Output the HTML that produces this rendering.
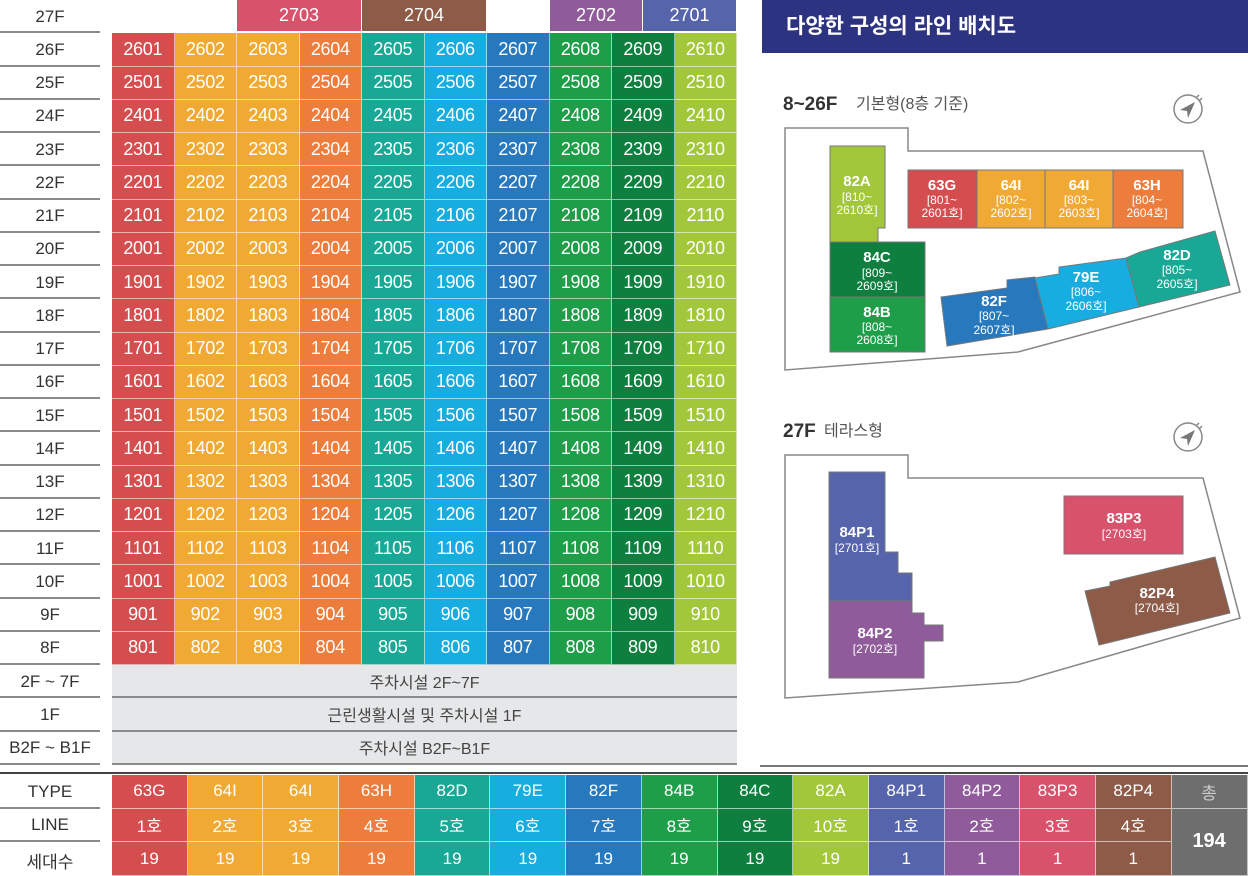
<!DOCTYPE html>
<html><head><meta charset="utf-8">
<style>
*{margin:0;padding:0;box-sizing:border-box}
body{width:1248px;height:876px;background:#fff;position:relative;overflow:hidden;font-family:"Liberation Sans","Noto Sans CJK KR",sans-serif}
.g{position:absolute;left:0;top:0;display:grid;grid-template-columns:112px repeat(10,62.5px);grid-template-rows:repeat(23,33.26px)}
.l{width:100px;border-bottom:2px solid #8a8a8a;color:#333;font-size:17px;display:flex;align-items:center;justify-content:center;padding-top:2px}
.g i{font-style:normal;color:#fff;font-size:18px;display:flex;align-items:center;justify-content:center;border-right:1px solid rgba(255,255,255,.55);border-bottom:1px solid rgba(255,255,255,.55);letter-spacing:-0.3px}
.c1{background:#d44d4f}.c2,.c3{background:#f0aa34}.c4{background:#ec7d3c}.c5{background:#19a896}.c6{background:#18ade0}.c7{background:#2778bd}.c8{background:#1f9e4a}.c9{background:#0f7f3f}.c10{background:#a2c73b}
.p1{background:#5664ac}.p2{background:#8f5b9a}.p3{background:#d8526c}.p4{background:#8d5b47}
.gr{grid-column:2/12;background:#e6e7e8;border-bottom:2px solid #8a8a8a;color:#444;font-size:16px;display:flex;align-items:center;justify-content:center}
.t{position:absolute;top:0;height:31px;color:#fff;font-size:18px;display:flex;align-items:center;justify-content:center;border-right:1px solid #fff}
.b{position:absolute;left:0;top:775px;display:grid;grid-template-columns:112px repeat(14,75.7px) 76px;grid-template-rows:33.5px 33.5px 34px}
.b .l{border-bottom:2px solid #8a8a8a}
.b i{font-style:normal;color:#fff;font-size:17px;display:flex;align-items:center;justify-content:center;border-right:1px solid rgba(255,255,255,.6);border-bottom:1px solid rgba(255,255,255,.6)}
.tot{background:#6e6e6e}
</style></head><body>
<div class="t p3" style="left:237px;width:125px">2703</div>
<div class="t p4" style="left:362px;width:125px">2704</div>
<div class="t p2" style="left:550px;width:93px">2702</div>
<div class="t p1" style="left:643px;width:94px">2701</div>
<div class="g">
<div class="l">27F</div><div style="grid-column:2/12"></div>
<div class="l">26F</div><i class="c1">2601</i><i class="c2">2602</i><i class="c3">2603</i><i class="c4">2604</i><i class="c5">2605</i><i class="c6">2606</i><i class="c7">2607</i><i class="c8">2608</i><i class="c9">2609</i><i class="c10">2610</i>
<div class="l">25F</div><i class="c1">2501</i><i class="c2">2502</i><i class="c3">2503</i><i class="c4">2504</i><i class="c5">2505</i><i class="c6">2506</i><i class="c7">2507</i><i class="c8">2508</i><i class="c9">2509</i><i class="c10">2510</i>
<div class="l">24F</div><i class="c1">2401</i><i class="c2">2402</i><i class="c3">2403</i><i class="c4">2404</i><i class="c5">2405</i><i class="c6">2406</i><i class="c7">2407</i><i class="c8">2408</i><i class="c9">2409</i><i class="c10">2410</i>
<div class="l">23F</div><i class="c1">2301</i><i class="c2">2302</i><i class="c3">2303</i><i class="c4">2304</i><i class="c5">2305</i><i class="c6">2306</i><i class="c7">2307</i><i class="c8">2308</i><i class="c9">2309</i><i class="c10">2310</i>
<div class="l">22F</div><i class="c1">2201</i><i class="c2">2202</i><i class="c3">2203</i><i class="c4">2204</i><i class="c5">2205</i><i class="c6">2206</i><i class="c7">2207</i><i class="c8">2208</i><i class="c9">2209</i><i class="c10">2210</i>
<div class="l">21F</div><i class="c1">2101</i><i class="c2">2102</i><i class="c3">2103</i><i class="c4">2104</i><i class="c5">2105</i><i class="c6">2106</i><i class="c7">2107</i><i class="c8">2108</i><i class="c9">2109</i><i class="c10">2110</i>
<div class="l">20F</div><i class="c1">2001</i><i class="c2">2002</i><i class="c3">2003</i><i class="c4">2004</i><i class="c5">2005</i><i class="c6">2006</i><i class="c7">2007</i><i class="c8">2008</i><i class="c9">2009</i><i class="c10">2010</i>
<div class="l">19F</div><i class="c1">1901</i><i class="c2">1902</i><i class="c3">1903</i><i class="c4">1904</i><i class="c5">1905</i><i class="c6">1906</i><i class="c7">1907</i><i class="c8">1908</i><i class="c9">1909</i><i class="c10">1910</i>
<div class="l">18F</div><i class="c1">1801</i><i class="c2">1802</i><i class="c3">1803</i><i class="c4">1804</i><i class="c5">1805</i><i class="c6">1806</i><i class="c7">1807</i><i class="c8">1808</i><i class="c9">1809</i><i class="c10">1810</i>
<div class="l">17F</div><i class="c1">1701</i><i class="c2">1702</i><i class="c3">1703</i><i class="c4">1704</i><i class="c5">1705</i><i class="c6">1706</i><i class="c7">1707</i><i class="c8">1708</i><i class="c9">1709</i><i class="c10">1710</i>
<div class="l">16F</div><i class="c1">1601</i><i class="c2">1602</i><i class="c3">1603</i><i class="c4">1604</i><i class="c5">1605</i><i class="c6">1606</i><i class="c7">1607</i><i class="c8">1608</i><i class="c9">1609</i><i class="c10">1610</i>
<div class="l">15F</div><i class="c1">1501</i><i class="c2">1502</i><i class="c3">1503</i><i class="c4">1504</i><i class="c5">1505</i><i class="c6">1506</i><i class="c7">1507</i><i class="c8">1508</i><i class="c9">1509</i><i class="c10">1510</i>
<div class="l">14F</div><i class="c1">1401</i><i class="c2">1402</i><i class="c3">1403</i><i class="c4">1404</i><i class="c5">1405</i><i class="c6">1406</i><i class="c7">1407</i><i class="c8">1408</i><i class="c9">1409</i><i class="c10">1410</i>
<div class="l">13F</div><i class="c1">1301</i><i class="c2">1302</i><i class="c3">1303</i><i class="c4">1304</i><i class="c5">1305</i><i class="c6">1306</i><i class="c7">1307</i><i class="c8">1308</i><i class="c9">1309</i><i class="c10">1310</i>
<div class="l">12F</div><i class="c1">1201</i><i class="c2">1202</i><i class="c3">1203</i><i class="c4">1204</i><i class="c5">1205</i><i class="c6">1206</i><i class="c7">1207</i><i class="c8">1208</i><i class="c9">1209</i><i class="c10">1210</i>
<div class="l">11F</div><i class="c1">1101</i><i class="c2">1102</i><i class="c3">1103</i><i class="c4">1104</i><i class="c5">1105</i><i class="c6">1106</i><i class="c7">1107</i><i class="c8">1108</i><i class="c9">1109</i><i class="c10">1110</i>
<div class="l">10F</div><i class="c1">1001</i><i class="c2">1002</i><i class="c3">1003</i><i class="c4">1004</i><i class="c5">1005</i><i class="c6">1006</i><i class="c7">1007</i><i class="c8">1008</i><i class="c9">1009</i><i class="c10">1010</i>
<div class="l">9F</div><i class="c1">901</i><i class="c2">902</i><i class="c3">903</i><i class="c4">904</i><i class="c5">905</i><i class="c6">906</i><i class="c7">907</i><i class="c8">908</i><i class="c9">909</i><i class="c10">910</i>
<div class="l">8F</div><i class="c1">801</i><i class="c2">802</i><i class="c3">803</i><i class="c4">804</i><i class="c5">805</i><i class="c6">806</i><i class="c7">807</i><i class="c8">808</i><i class="c9">809</i><i class="c10">810</i>
<div class="l">2F ~ 7F</div><div class="gr">주차시설 2F~7F</div>
<div class="l">1F</div><div class="gr">근린생활시설 및 주차시설 1F</div>
<div class="l">B2F ~ B1F</div><div class="gr">주차시설 B2F~B1F</div>
</div>

<div style="position:absolute;left:760px;top:765px;width:488px;height:2px;background:#777"></div>
<div style="position:absolute;left:0;top:772px;width:1248px;height:2px;background:#444"></div>

<div class="b">
<div class="l">TYPE</div><i class="c1">63G</i><i class="c2">64I</i><i class="c3">64I</i><i class="c4">63H</i><i class="c5">82D</i><i class="c6">79E</i><i class="c7">82F</i><i class="c8">84B</i><i class="c9">84C</i><i class="c10">82A</i><i class="p1">84P1</i><i class="p2">84P2</i><i class="p3">83P3</i><i class="p4">82P4</i><i class="tot" style="color:#ccc">총</i>
<div class="l">LINE</div><i class="c1">1호</i><i class="c2">2호</i><i class="c3">3호</i><i class="c4">4호</i><i class="c5">5호</i><i class="c6">6호</i><i class="c7">7호</i><i class="c8">8호</i><i class="c9">9호</i><i class="c10">10호</i><i class="p1">1호</i><i class="p2">2호</i><i class="p3">3호</i><i class="p4">4호</i><i class="tot" style="grid-row:2/4;grid-column:16;font-size:20px;font-weight:bold">194</i>
<div class="l" style="border-bottom:none">세대수</div><i class="c1">19</i><i class="c2">19</i><i class="c3">19</i><i class="c4">19</i><i class="c5">19</i><i class="c6">19</i><i class="c7">19</i><i class="c8">19</i><i class="c9">19</i><i class="c10">19</i><i class="p1">1</i><i class="p2">1</i><i class="p3">1</i><i class="p4">1</i>
</div>

<div style="position:absolute;left:762px;top:0;width:486px;height:53px;background:#2c3380;color:#fff;font-size:21px;font-weight:bold;padding-left:24px;line-height:53px">다양한 구성의 라인 배치도</div>

<svg style="position:absolute;left:0;top:0" width="1248" height="876" font-family="Liberation Sans, Noto Sans CJK KR, sans-serif">
<text x="783" y="110" font-size="19" font-weight="bold" fill="#333">8~26F</text>
<text x="856" y="109" font-size="16" fill="#555">기본형(8층 기준)</text>
<text x="783" y="437" font-size="19" font-weight="bold" fill="#333">27F</text>
<text x="824" y="436" font-size="16" fill="#555">테라스형</text>
<g fill="none" stroke="#888" stroke-width="1.5">
<circle cx="1188" cy="109" r="14"/><circle cx="1188" cy="437" r="14"/>
</g>
<path d="M1195 102 L1180 110 L1187 111 L1188 118 Z" fill="#777"/>
<path d="M1195 430 L1180 438 L1187 439 L1188 446 Z" fill="#777"/>
<g fill="none" stroke="#888" stroke-width="1.5">
<path d="M1196 98 l3 -3 M1199 101 l3 -3"/><path d="M1196 426 l3 -3 M1199 429 l3 -3"/>
<polygon points="785,128 908,128 908,151 1203,151 1240,292 1018,352 785,370"/>
<polygon points="785,455 908,455 908,478 1203,478 1240,618 1018,682 785,698"/>
</g>
<g stroke="#777" stroke-width="1">
<polygon points="830,146 885,146 885,228 878,228 878,242 830,242" fill="#a2c73b"/>
<rect x="830" y="242" width="95" height="55" fill="#0f7f3f"/>
<rect x="830" y="297" width="95" height="55" fill="#1f9e4a"/>
<rect x="908" y="170" width="69" height="58" fill="#d44d4f"/>
<rect x="977" y="170" width="68" height="58" fill="#f0aa34"/>
<rect x="1045" y="170" width="68" height="58" fill="#f0aa34"/>
<rect x="1113" y="170" width="70" height="58" fill="#ec7d3c"/>
<polygon points="941,297 1007,288 1007,280 1035,277 1048,329 947,346" fill="#2778bd"/>
<polygon points="1035,278 1059,274 1059,267 1126,258 1139,307 1048,329" fill="#18ade0"/>
<polygon points="1126,258 1140,252 1215,231 1230,285 1139,307" fill="#19a896"/>
<polygon points="829,472 885,472 885,552 898,552 898,573 912,573 912,601 829,601" fill="#5664ac"/>
<polygon points="829,601 912,601 912,613 924,613 924,625 943,625 943,641 924,641 924,678 829,678" fill="#8f5b9a"/>
<rect x="1064" y="496" width="119" height="58" fill="#d8526c"/>
<polygon points="1085,591 1110,586 1110,582 1215,557 1230,613 1099,645" fill="#8d5b47"/>
</g>
<g fill="#fff" text-anchor="middle" font-size="12">
<text x="857" y="186" font-size="15" font-weight="bold">82A</text><text x="857" y="201">[810~</text><text x="857" y="214">2610호]</text>
<text x="877" y="262" font-size="15" font-weight="bold">84C</text><text x="877" y="277">[809~</text><text x="877" y="290">2609호]</text>
<text x="877" y="317" font-size="15" font-weight="bold">84B</text><text x="877" y="331">[808~</text><text x="877" y="344">2608호]</text>
<text x="942" y="190" font-size="15" font-weight="bold">63G</text><text x="942" y="204">[801~</text><text x="942" y="217">2601호]</text>
<text x="1011" y="190" font-size="15" font-weight="bold">64I</text><text x="1011" y="204">[802~</text><text x="1011" y="217">2602호]</text>
<text x="1079" y="190" font-size="15" font-weight="bold">64I</text><text x="1079" y="204">[803~</text><text x="1079" y="217">2603호]</text>
<text x="1147" y="190" font-size="15" font-weight="bold">63H</text><text x="1147" y="204">[804~</text><text x="1147" y="217">2604호]</text>
<text x="994" y="306" font-size="15" font-weight="bold">82F</text><text x="994" y="320">[807~</text><text x="994" y="334">2607호]</text>
<text x="1086" y="282" font-size="15" font-weight="bold">79E</text><text x="1086" y="296">[806~</text><text x="1086" y="310">2606호]</text>
<text x="1177" y="260" font-size="15" font-weight="bold">82D</text><text x="1177" y="274">[805~</text><text x="1177" y="288">2605호]</text>
<text x="857" y="537" font-size="15" font-weight="bold">84P1</text><text x="857" y="552">[2701호]</text>
<text x="875" y="638" font-size="15" font-weight="bold">84P2</text><text x="875" y="653">[2702호]</text>
<text x="1124" y="523" font-size="15" font-weight="bold">83P3</text><text x="1124" y="538">[2703호]</text>
<text x="1157" y="598" font-size="15" font-weight="bold">82P4</text><text x="1157" y="612">[2704호]</text>
</g>
</svg>
</body></html>
